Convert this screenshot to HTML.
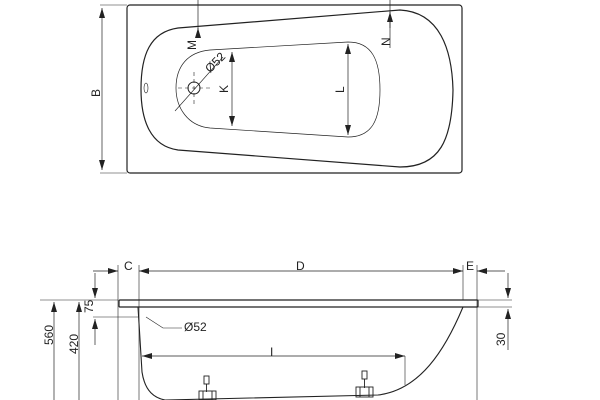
<!DOCTYPE html>
<html><head><style>body{margin:0;background:#fff}svg{display:block}text{font-family:"Liberation Sans",sans-serif;font-size:12px;fill:#222}</style></head><body>
<svg width="600" height="400" viewBox="0 0 600 400">
<defs><marker id="a" viewBox="0 0 10 6" refX="10" refY="3" markerWidth="10" markerHeight="6" orient="auto-start-reverse" markerUnits="userSpaceOnUse"><path d="M0,0L10,3L0,6z" fill="#222"/></marker></defs>
<g fill="none" stroke="#222" stroke-width="1">
<rect x="127" y="5" width="335" height="168" rx="3" stroke-width="1.2"/>
<path d="M178,28 L400,10 C440,12 452,50 453,90 C452,140 440,167 400,167 L178,150 C150,146 141,120 141,89 C141,55 150,32 178,28Z" stroke-width="1.2"/>
<path d="M210,50 L348,42 C372,42 380,60 380,90 C380,120 372,137 348,137 L210,128 C188,126 176,108 176,88 C176,66 188,52 210,50Z" stroke-width="0.7"/>
<circle cx="194" cy="88" r="6"/>
<path d="M178,88h32M194,72v32" stroke-width="0.6" stroke-dasharray="4,3"/>
<path d="M175,111L223,57" stroke-width="0.6"/>
<ellipse cx="146" cy="88" rx="2" ry="5" stroke-width="0.6"/>
<path d="M100,5h27M100,173h27" stroke-width="0.6"/>
<path d="M102,8V170" marker-start="url(#a)" marker-end="url(#a)" stroke-width="0.7"/>
<path d="M198,0V38" stroke-width="0.7"/><path d="M198,38V28" marker-end="url(#a)" stroke-width="0.7"/>
<path d="M390,0V48" stroke-width="0.7"/><path d="M390,28V12" marker-end="url(#a)" stroke-width="0.7"/>
<path d="M232,52V126" marker-start="url(#a)" marker-end="url(#a)" stroke-width="0.7"/>
<path d="M348,44V135" marker-start="url(#a)" marker-end="url(#a)" stroke-width="0.7"/>
<rect x="119" y="300" width="359" height="7" rx="1" stroke-width="1.2"/>
<path d="M138,307 L142,372 C145,392 155,398 165,400 M463,307 C445,350 420,390 378,395 M165,400 L378,395" stroke-width="1.1"/>
<path d="M118,265V400M139,265V400M463,265V300M477,265V400" stroke-width="0.6"/>
<path d="M93,271H118" marker-end="url(#a)" stroke-width="0.7"/>
<path d="M139,271H463" marker-start="url(#a)" marker-end="url(#a)" stroke-width="0.7"/>
<path d="M505,271H477" marker-end="url(#a)" stroke-width="0.7"/>
<path d="M40,300H118M93,317H138M478,300H512M478,307H512" stroke-width="0.6"/>
<path d="M54,302V400" marker-start="url(#a)" stroke-width="0.7"/>
<path d="M79,302V400" marker-start="url(#a)" stroke-width="0.7"/>
<path d="M95,273V298" marker-end="url(#a)" stroke-width="0.7"/>
<path d="M95,345V319" marker-end="url(#a)" stroke-width="0.7"/>
<path d="M508,273V298" marker-end="url(#a)" stroke-width="0.7"/>
<path d="M508,350V309" marker-end="url(#a)" stroke-width="0.7"/>
<path d="M146,317L163,328H182" stroke-width="0.6"/>
<path d="M142,356H405" marker-start="url(#a)" marker-end="url(#a)" stroke-width="0.7"/>
<path d="M405,356V385" stroke-width="0.6"/>
<g stroke-width="0.9"><rect x="204" y="376" width="5" height="8"/><path d="M206.5,384V392"/><rect x="199" y="391" width="17" height="9"/><path d="M203,391V400M212,391V400"/>
<rect x="362" y="371" width="5" height="8"/><path d="M364.5,379V388"/><rect x="356" y="387" width="17" height="10"/><path d="M360,387V397M369,387V397"/></g>
</g>
<text x="88" y="93" transform="rotate(-90 96 89)">B</text>
<text x="188" y="50" transform="rotate(-90 192 46)">M</text>
<text x="382" y="46" transform="rotate(-90 386 42)">N</text>
<text x="220" y="93" transform="rotate(-90 224 89)">K</text>
<text x="336" y="93" transform="rotate(-90 340 89)">L</text>
<text x="202" y="70" transform="rotate(-45 210 62)">Ø52</text>
<text x="124" y="270">C</text><text x="296" y="270">D</text><text x="466" y="270">E</text>
<text x="184" y="331">Ø52</text>
<text x="270" y="356">I</text>
<text x="44" y="346" transform="rotate(-90 48 341)">560</text>
<text x="69" y="355" transform="rotate(-90 73 350)">420</text>
<text x="84" y="314" transform="rotate(-90 88 309)">75</text>
<text x="497" y="346" transform="rotate(-90 501 342)">30</text>
</svg></body></html>
